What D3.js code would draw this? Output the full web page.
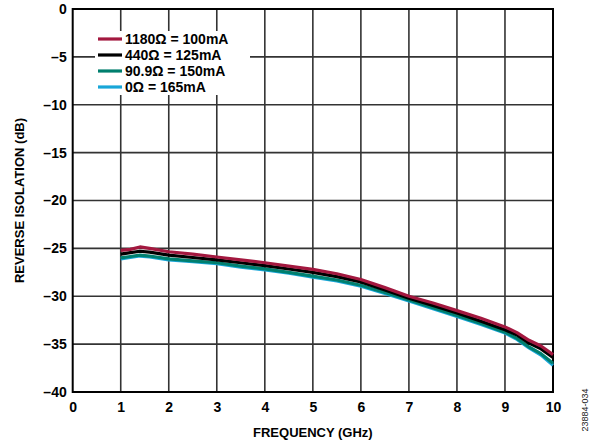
<!DOCTYPE html>
<html>
<head>
<meta charset="utf-8">
<script src="https://cdn.jsdelivr.net/npm/d3@7"></script>
<style>
  body { margin: 0; background: #fff; }
  text { font-family: "Liberation Sans", Arial, sans-serif; }
</style>
</head>
<body>
<div class="container"></div>
<script>
// frequency points (GHz)
var freq = [1, 1.2, 1.4, 1.6, 2, 2.5, 3, 3.5, 4, 4.5, 5, 5.5, 6, 6.5, 7, 7.5, 8, 8.5, 9, 9.25, 9.5, 9.75, 10];

var r1180 = [-25.2, -25.1, -24.85, -25.0, -25.35, -25.6, -25.9, -26.2, -26.5, -26.85, -27.2, -27.65, -28.25, -29.1, -30.0, -30.7, -31.5, -32.3, -33.2, -33.8, -34.6, -35.2, -36.1];
var r440 = [-25.6, -25.45, -25.3, -25.4, -25.7, -25.95, -26.2, -26.5, -26.8, -27.15, -27.5, -27.95, -28.5, -29.35, -30.2, -30.95, -31.75, -32.6, -33.5, -34.05, -34.9, -35.5, -36.4];
var r909 = [-26.0, -25.85, -25.7, -25.8, -26.1, -26.3, -26.5, -26.85, -27.15, -27.5, -27.9, -28.3, -28.85, -29.6, -30.4, -31.2, -32.0, -32.85, -33.75, -34.4, -35.3, -36.0, -37.0];
var r0 = [-26.1, -25.95, -25.8, -25.9, -26.2, -26.4, -26.6, -26.95, -27.25, -27.6, -28.0, -28.4, -28.95, -29.7, -30.5, -31.3, -32.1, -32.95, -33.85, -34.5, -35.4, -36.15, -37.2];

var seriesNames = ["1180\u03A9 = 100mA", "440\u03A9 = 125mA", "90.9\u03A9 = 150mA", "0\u03A9 = 165mA"];
var seriesColors = ["#a3183f", "#000000", "#007f6e", "#18a6d8"];
var seriesValues = [r1180, r440, r909, r0];

var xTicks = [0, 1, 2, 3, 4, 5, 6, 7, 8, 9, 10];
var yTicks = [0, -5, -10, -15, -20, -25, -30, -35, -40];

const WIDTH = 602;
const HEIGHT = 446;
const LEFT = 72.7, RIGHT = 553, TOP = 9, BOTTOM = 392;

var translate = function (x, y) {
    return "translate(" + x + "," + y + ")";
};

var svg = d3.select('.container').append('svg')
    .attr('width', WIDTH)
    .attr('height', HEIGHT);

var xScale = d3.scaleLinear().domain([0, 10]).range([LEFT, RIGHT]);
var yScale = d3.scaleLinear().domain([-40, 0]).range([BOTTOM, TOP]);

// grid
svg.append('g').selectAll('line.v')
    .data(xTicks.slice(1, -1))
    .enter().append('line')
    .attr('x1', xScale).attr('x2', xScale)
    .attr('y1', TOP).attr('y2', BOTTOM)
    .attr('stroke', '#333').attr('stroke-width', 1.6);

svg.append('g').selectAll('line.h')
    .data(yTicks.slice(1, -1))
    .enter().append('line')
    .attr('x1', LEFT).attr('x2', RIGHT)
    .attr('y1', yScale).attr('y2', yScale)
    .attr('stroke', '#333').attr('stroke-width', 1.6);

// frame
svg.append('rect')
    .attr('x', LEFT).attr('y', TOP)
    .attr('width', RIGHT - LEFT).attr('height', BOTTOM - TOP)
    .attr('fill', 'none').attr('stroke', '#000').attr('stroke-width', 2);

// axes labels via d3 axes
var xAxis = d3.axisBottom(xScale).tickValues(xTicks).tickSize(0).tickPadding(10).tickFormat(d3.format('d'));
var yAxis = d3.axisLeft(yScale).tickValues(yTicks).tickSize(0).tickPadding(6)
    .tickFormat(function (d) { return d < 0 ? '\u2013' + Math.abs(d) : d; });

var gx = svg.append('g').attr('transform', translate(0, BOTTOM)).call(xAxis);
var gy = svg.append('g').attr('transform', translate(LEFT, 0)).call(yAxis);
[gx, gy].forEach(function (g) {
    g.select('.domain').remove();
    g.selectAll('text')
        .style('font-family', '"Liberation Sans", Arial, sans-serif')
        .style('font-size', '14px')
        .style('font-weight', 'bold')
        .attr('fill', '#000');
});

// lines
var line = d3.line()
    .x(function (d, i) { return xScale(freq[i]); })
    .y(function (d) { return yScale(d); });

var order = [3, 2, 1, 0];
order.forEach(function (k) {
    svg.append('path')
        .attr('d', line(seriesValues[k]))
        .attr('fill', 'none')
        .attr('stroke', seriesColors[k])
        .attr('stroke-width', 3.2)
        .attr('stroke-linejoin', 'round');
});

// legend
var lg = svg.append('g');
lg.append('rect')
    .attr('x', 95).attr('y', 31).attr('width', 155).attr('height', 64)
    .attr('fill', '#fff');
seriesNames.forEach(function (name, i) {
    var y = 39 + i * 16;
    lg.append('line')
        .attr('x1', 98).attr('x2', 122).attr('y1', y).attr('y2', y)
        .attr('stroke', seriesColors[i]).attr('stroke-width', 3.2);
    lg.append('text')
        .attr('x', 125).attr('y', y + 5)
        .style('font-size', '14px').style('font-weight', 'bold')
        .text(name);
});

// titles
svg.append('text')
    .attr('x', (LEFT + RIGHT) / 2).attr('y', 437)
    .attr('text-anchor', 'middle')
    .style('font-size', '13px').style('font-weight', 'bold')
    .text('FREQUENCY (GHz)');

svg.append('text')
    .attr('transform', translate(24, (TOP + BOTTOM) / 2) + ' rotate(-90)')
    .attr('text-anchor', 'middle')
    .style('font-size', '13px').style('font-weight', 'bold')
    .text('REVERSE ISOLATION (dB)');

svg.append('text')
    .attr('transform', translate(588, 410) + ' rotate(-90)')
    .attr('text-anchor', 'middle')
    .style('font-size', '9px')
    .attr('fill', '#222')
    .text('23884-034');
</script>
</body>
</html>
